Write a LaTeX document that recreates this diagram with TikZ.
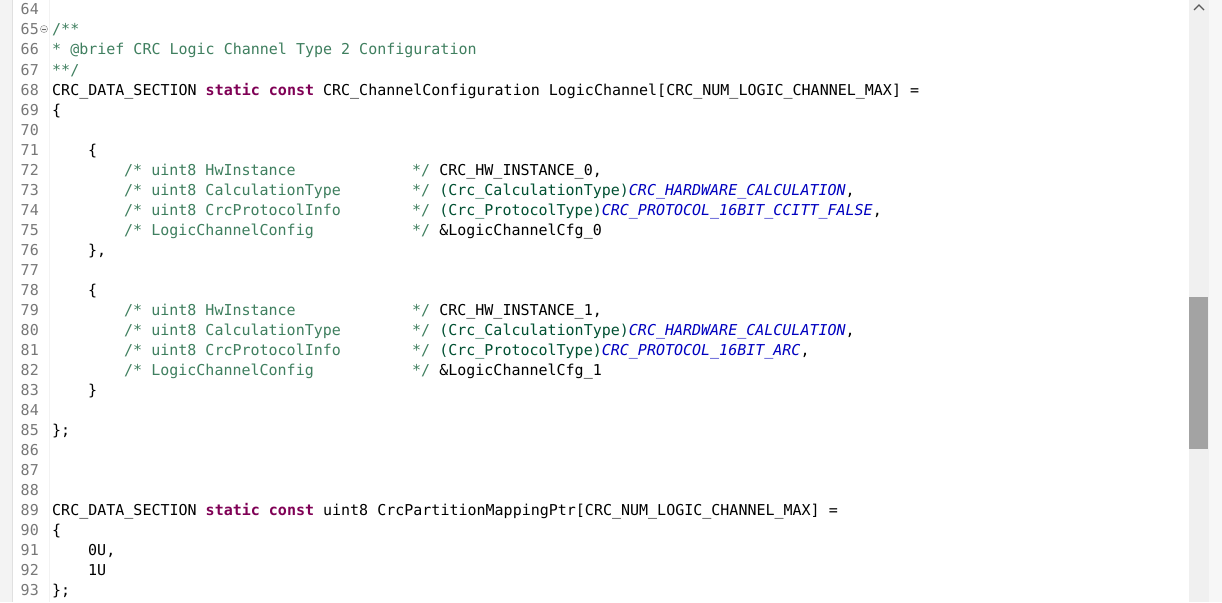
\documentclass[tikz,border=0pt]{standalone}
\usepackage{fontspec}
\usepackage{xcolor}
\usepackage{tikz}
\usetikzlibrary{positioning}
\newfontfamily\monofnt{DejaVu Sans Mono}

\definecolor{cmtgreen}{HTML}{3F7F5F}
\definecolor{kwpurple}{HTML}{7F0055}
\definecolor{typeteal}{HTML}{005032}
\definecolor{enumblue}{HTML}{0000C0}
\definecolor{lngray}{HTML}{787878}
\definecolor{gutter}{HTML}{F3F3F3}
\definecolor{track}{HTML}{F0F0F0}
\definecolor{thumb}{HTML}{A3A3A3}

\newcommand\kwd[1]{{\color{kwpurple}\bfseries #1}}
\newcommand\typ[1]{{\color{typeteal}#1}}
\newcommand\enm[1]{{\color{enumblue}\itshape #1}}
\newcommand\cmnt[1]{{\color{cmtgreen}#1}}

\begin{document}
\begin{tikzpicture}[
x=1pt, y=-1pt,
code/.style={anchor=base west,inner sep=0pt,font=\monofnt\fontsize{15}{18}\selectfont},
lnum/.style={anchor=base east,inner sep=0pt,text=lngray,font=\monofnt\fontsize{15}{18}\selectfont},
scale=1]
    \useasboundingbox (0,0) rectangle (1222,602);
    \fill[white] (0,0) rectangle (1222,602);

    % Draw gutter
    \fill[gutter] (0,0) rectangle (12,602);
    \draw[black!12] (12.5,0) -- (12.5,602);
    \draw[black!5] (49.5,0) -- (49.5,602);

    % Draw scrollbar
    \fill[black!3] (1209,0) rectangle (1222,602);
    \fill[track] (1189,0) rectangle (1209,602);
    \fill[thumb] (1189,297) rectangle (1208,449);
    \draw[black!65,line width=1.3pt] (1194,10) -- (1199,5) -- (1204,10);

    % line numbers
    \foreach \n in {64,...,93}
        \node[lnum] (n\n) at (39,{15+20*(\n-64)}) {\n};

    % fold marker
    \draw[black!45,fill=black!4] (44,29) circle (3.6);
    \draw[black!60] (42,29) -- (46,29);

    \node[code] (c65) at (52,35) {\cmnt{/**}};
    \node[code] (c66) at (52,55) {\cmnt{* @brief CRC Logic Channel Type 2 Configuration}};
    \node[code] (c67) at (52,75) {\cmnt{**/}};
    \node[code] (c68) at (52,95) {CRC\_DATA\_SECTION \kwd{static} \kwd{const} CRC\_ChannelConfiguration LogicChannel[CRC\_NUM\_LOGIC\_CHANNEL\_MAX] =};
    \node[code] (c69) at (52,115) {\{};

    % first channel
    \node[code] (c71) at (88,155) {\{};
    \node[code] (c72a) at (124,175) {\cmnt{/* uint8 HwInstance}};
    \node[code] (c72b) at (412,175) {\cmnt{*/} CRC\_HW\_INSTANCE\_0,};
    \node[code] (c73a) at (124,195) {\cmnt{/* uint8 CalculationType}};
    \node[code] (c73b) at (412,195) {\cmnt{*/} \typ{(Crc\_CalculationType)}\enm{CRC\_HARDWARE\_CALCULATION},};
    \node[code] (c74a) at (124,215) {\cmnt{/* uint8 CrcProtocolInfo}};
    \node[code] (c74b) at (412,215) {\cmnt{*/} \typ{(Crc\_ProtocolType)}\enm{CRC\_PROTOCOL\_16BIT\_CCITT\_FALSE},};
    \node[code] (c75a) at (124,235) {\cmnt{/* LogicChannelConfig}};
    \node[code] (c75b) at (412,235) {\cmnt{*/} \&LogicChannelCfg\_0};
    \node[code] (c76) at (88,255) {\},};

    % second channel
    \node[code] (c78) at (88,295) {\{};
    \node[code] (c79a) at (124,315) {\cmnt{/* uint8 HwInstance}};
    \node[code] (c79b) at (412,315) {\cmnt{*/} CRC\_HW\_INSTANCE\_1,};
    \node[code] (c80a) at (124,335) {\cmnt{/* uint8 CalculationType}};
    \node[code] (c80b) at (412,335) {\cmnt{*/} \typ{(Crc\_CalculationType)}\enm{CRC\_HARDWARE\_CALCULATION},};
    \node[code] (c81a) at (124,355) {\cmnt{/* uint8 CrcProtocolInfo}};
    \node[code] (c81b) at (412,355) {\cmnt{*/} \typ{(Crc\_ProtocolType)}\enm{CRC\_PROTOCOL\_16BIT\_ARC},};
    \node[code] (c82a) at (124,375) {\cmnt{/* LogicChannelConfig}};
    \node[code] (c82b) at (412,375) {\cmnt{*/} \&LogicChannelCfg\_1};
    \node[code] (c83) at (88,395) {\}};

    \node[code] (c85) at (52,435) {\};};

    % mapping table
    \node[code] (c89) at (52,515) {CRC\_DATA\_SECTION \kwd{static} \kwd{const} uint8 CrcPartitionMappingPtr[CRC\_NUM\_LOGIC\_CHANNEL\_MAX] =};
    \node[code] (c90) at (52,535) {\{};
    \node[code] (c91) at (88,555) {0U,};
    \node[code] (c92) at (88,575) {1U};
    \node[code] (c93) at (52,595) {\};};

\end{tikzpicture}
\end{document}
